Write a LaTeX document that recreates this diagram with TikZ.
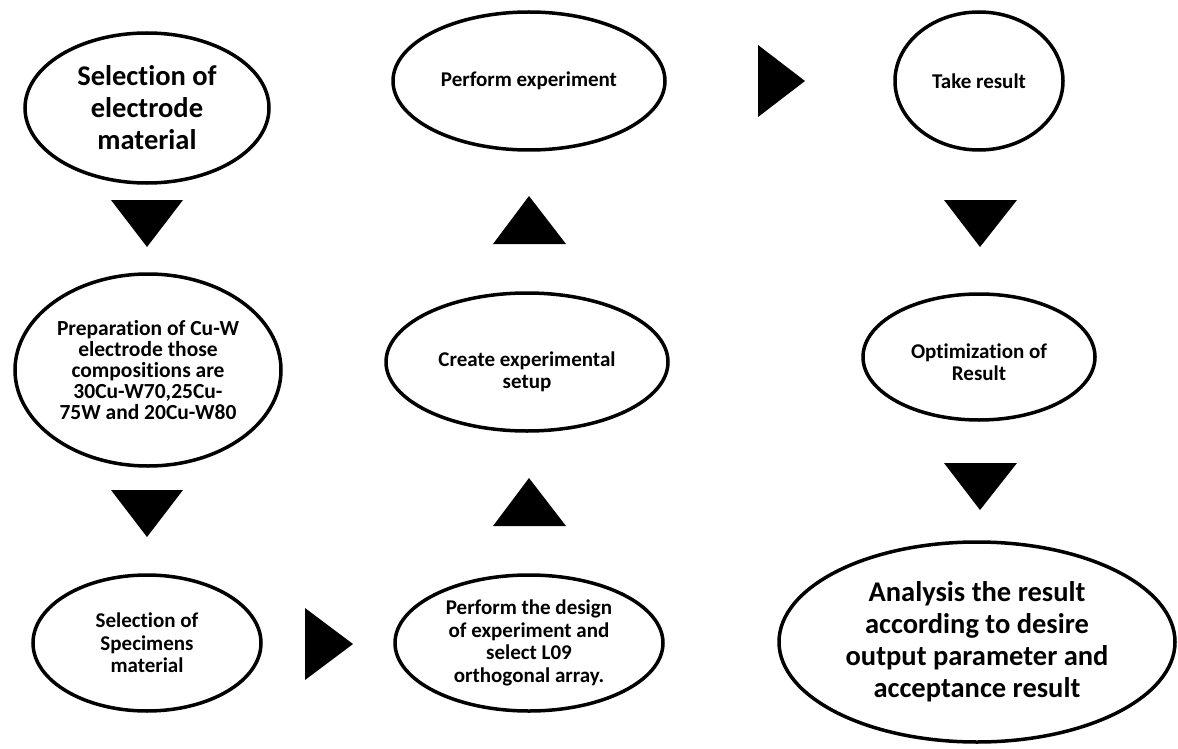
\documentclass[tikz,border=0pt]{standalone}
\usepackage{fontspec}
\setmainfont{Carlito}[Ligatures=NoCommon]
\usetikzlibrary{shapes.geometric}
\begin{document}
\begin{tikzpicture}[x=1pt,y=-1pt,
  ell/.style={ellipse, draw=black, line width=3.5pt, inner sep=0pt, align=center,
    font=\bfseries\fontsize{21}{22.5}\selectfont},
  bigtext/.style={font=\bfseries\fontsize{28.5}{32}\selectfont},
  midtext/.style={font=\bfseries\fontsize{21.5}{21}\selectfont},
  smalltext/.style={align=center, inner sep=0pt, font=\bfseries\fontsize{21}{22.5}\selectfont},
  arrowtri/.style={fill=black}]
\useasboundingbox (0,0) rectangle (1178,749);

% ellipses
\node[ell, bigtext, minimum width=244pt, minimum height=150pt] (e1) at (147,108)
  {Selection of\\electrode\\material};
\node[ell, midtext, minimum width=266pt, minimum height=192pt] (e2) at (148,370)
  {Preparation of Cu-W\\electrode those\\compositions are\\30Cu-W70,25Cu-\\75W and 20Cu-W80};
\node[ell, minimum width=228pt, minimum height=136pt] (e3) at (147,643)
  {Selection of\\Specimens\\material};
\node[ell, minimum width=268pt, minimum height=136pt] (e4) at (529,643)
  {Perform the design\\of experiment and\\select L09\\orthogonal array.};
\node[ell, minimum width=282pt, minimum height=138pt] (e5) at (527,362) {};
\node[smalltext] (t5) at ([yshift=-10pt]e5.center) {Create experimental\\setup};
\node[ell, minimum width=272pt, minimum height=138pt] (e6) at (529,81)
  {Perform experiment};
\node[ell, minimum width=168pt, minimum height=138pt] (e7) at (979,81)
  {Take result};
\node[ell, minimum width=232pt, minimum height=126pt] (e8) at (979,357) {};
\node[smalltext] (t8) at ([yshift=-5pt]e8.center) {Optimization of\\Result};
\node[ell, bigtext, minimum width=396pt, minimum height=200pt] (e9) at (977,642)
  {Analysis the result\\according to desire\\output parameter and\\acceptance result};

% arrow triangles
\fill[arrowtri] (111,200) -- (183,200) -- (147,247) -- cycle;
\fill[arrowtri] (111,490) -- (183,490) -- (147,537) -- cycle;
\fill[arrowtri] (305,608) -- (305,680) -- (353,644) -- cycle;
\fill[arrowtri] (493,526) -- (566,526) -- (529,478) -- cycle;
\fill[arrowtri] (493,244) -- (566,244) -- (529,196) -- cycle;
\fill[arrowtri] (758,45) -- (758,117) -- (805,81) -- cycle;
\fill[arrowtri] (944,200) -- (1017,200) -- (980,247) -- cycle;
\fill[arrowtri] (944,463) -- (1017,463) -- (980,510) -- cycle;
\end{tikzpicture}
\end{document}
